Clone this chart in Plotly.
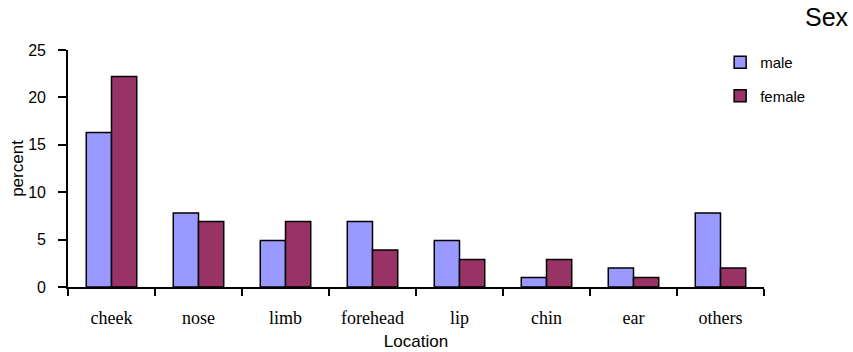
import plotly.graph_objects as go

locations = ["cheek", "nose", "limb", "forehead", "lip", "chin", "ear", "others"]
male = [16.3, 7.8, 4.9, 6.9, 4.9, 1.0, 2.0, 7.8]
female = [22.2, 6.9, 6.9, 3.9, 2.9, 2.9, 1.0, 2.0]
y_ticks = [0, 5, 10, 15, 20, 25]

fig = go.Figure()
fig.add_trace(go.Bar(x=locations, y=male, name="male", legendgroup="m",
                     marker=dict(color="#9999FF", line=dict(color="#000000", width=1.5))))
fig.add_trace(go.Bar(x=locations, y=female, name="female", legendgroup="f",
                     marker=dict(color="#993366", line=dict(color="#000000", width=1.5))))

fig.update_layout(
    width=853, height=352,
    margin=dict(l=68, r=89, t=50, b=65),
    paper_bgcolor="white", plot_bgcolor="white",
    barmode="group", bargap=0.42, bargroupgap=0,
    font=dict(family="Liberation Sans, Arial, sans-serif", color="#000000"),
    legend=dict(x=0.937, y=1.017, xanchor="left", yanchor="top",
                font=dict(size=15), tracegroupgap=11, itemwidth=30,
                bgcolor="rgba(0,0,0,0)"),
    xaxis=dict(
        showline=True, linecolor="#000000", linewidth=1.6,
        ticks="outside", tickson="boundaries", ticklen=7, tickcolor="#000000", tickwidth=1.6,
        tickfont=dict(family="Liberation Serif, Times New Roman, serif", size=18),
        ticklabelstandoff=14, automargin=False,
        title=dict(text="Location", font=dict(size=17), standoff=8),
        showgrid=False,
    ),
    yaxis=dict(
        range=[0, 25], tickvals=y_ticks,
        showline=True, linecolor="#000000", linewidth=1.6,
        ticks="outside", ticklen=8, tickcolor="#000000", tickwidth=1.6,
        tickfont=dict(size=16), ticklabelstandoff=9,
        title=dict(text="percent", font=dict(size=17), standoff=0),
        showgrid=False, zeroline=False,
    ),
    annotations=[dict(text="Sex", x=1.0, y=1.0, xref="paper", yref="paper",
                      xanchor="right", yanchor="bottom", showarrow=False,
                      font=dict(size=25), xshift=87, yshift=17)],
)

fig.write_html("out.html")
